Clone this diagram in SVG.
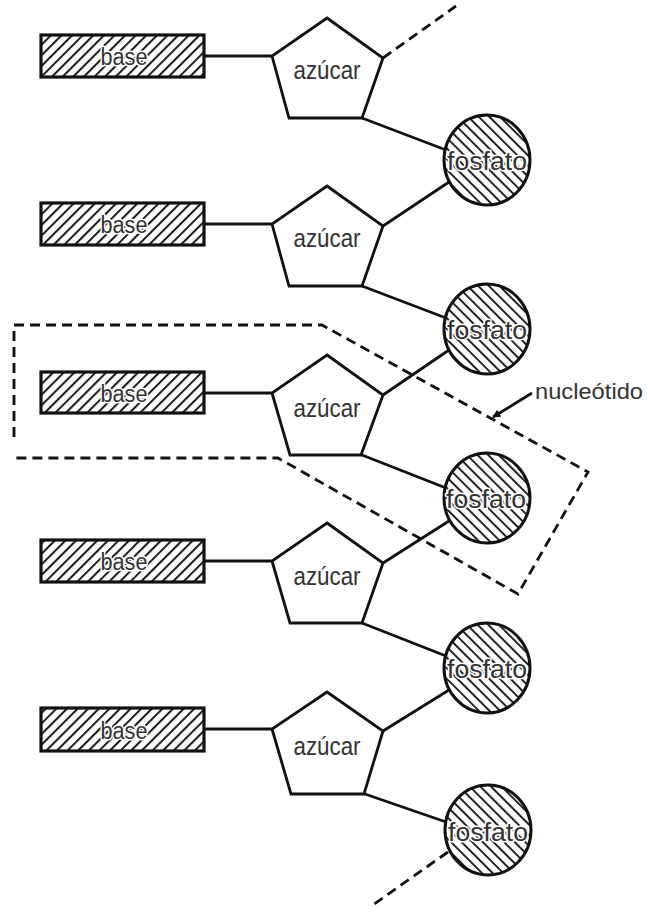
<svg xmlns="http://www.w3.org/2000/svg" width="647" height="907" viewBox="0 0 647 907">
<defs>
<pattern id="hatchBase" patternUnits="userSpaceOnUse" width="7.5" height="7.5" patternTransform="rotate(45)">
<rect width="7.5" height="7.5" fill="#fff"/>
<line x1="1" y1="0" x2="1" y2="7.5" stroke="#1a1a1a" stroke-width="2"/>
</pattern>
<pattern id="hatchPhos" patternUnits="userSpaceOnUse" width="7.5" height="7.5" patternTransform="rotate(-45)">
<rect width="7.5" height="7.5" fill="#fff"/>
<line x1="1" y1="0" x2="1" y2="7.5" stroke="#1a1a1a" stroke-width="1.9"/>
</pattern>
<marker id="arr" viewBox="0 0 10 10" refX="9" refY="5" markerWidth="9" markerHeight="8" orient="auto" markerUnits="userSpaceOnUse">
<path d="M0,0 L10,5 L0,10 z" fill="#111"/>
</marker>
</defs>
<style>
.base{fill:url(#hatchBase);stroke:#111;stroke-width:3.2}
.phos{fill:url(#hatchPhos);stroke:#111;stroke-width:3}
.sugar{fill:#fff;stroke:#111;stroke-width:2.8;stroke-linejoin:miter}
.bond{stroke:#111;stroke-width:2.8;fill:none}
.dash{stroke:#111;stroke-width:2.8;fill:none;stroke-dasharray:10 6}
.lbl{font-family:"Liberation Sans Narrow","Liberation Sans",Arial,sans-serif;fill:#333;text-anchor:middle}
.tb{font-size:23px}
.ts{font-size:25px}
.tp{font-size:25px}
.halo{paint-order:stroke;stroke:#fff;stroke-width:3;stroke-linejoin:round}
</style>
<rect width="647" height="907" fill="#fff"/>

<g id="connectors">
<line class="dash" x1="383" y1="58" x2="456" y2="6"/>
<line class="bond" x1="204" y1="56" x2="272" y2="56"/>
<line class="bond" x1="362" y1="118" x2="446" y2="150"/>
<line class="bond" x1="449" y1="182" x2="383" y2="226"/>
<line class="bond" x1="204" y1="224" x2="272" y2="224"/>
<line class="bond" x1="362" y1="286" x2="446" y2="318"/>
<line class="bond" x1="449" y1="350" x2="383" y2="395"/>
<line class="bond" x1="204" y1="393" x2="272" y2="393"/>
<line class="bond" x1="362" y1="455" x2="446" y2="488"/>
<line class="bond" x1="449" y1="521" x2="383" y2="563"/>
<line class="bond" x1="204" y1="561" x2="272" y2="561"/>
<line class="bond" x1="362" y1="623" x2="446" y2="656"/>
<line class="bond" x1="449" y1="690" x2="383" y2="731"/>
<line class="bond" x1="204" y1="729" x2="272" y2="729"/>
<line class="bond" x1="362" y1="793" x2="446" y2="822"/>
<line class="dash" x1="448" y1="852" x2="370" y2="907"/>
</g>

<g id="row1">
<g id="base1"><rect class="base" x="41" y="35" width="163" height="42"/><text class="lbl tb halo" x="124" y="65" textLength="47" lengthAdjust="spacingAndGlyphs">base</text></g>
<g id="sugar1"><polygon class="sugar" points="327,18 383,58 362,118 289,118 272,56"/><text class="lbl ts" x="327" y="79" textLength="67" lengthAdjust="spacingAndGlyphs">azúcar</text></g>
<g id="phos1"><ellipse class="phos" cx="487" cy="160" rx="43" ry="45"/><text class="lbl tp halo" x="487" y="170" textLength="80" lengthAdjust="spacingAndGlyphs">fosfato</text></g>
</g>

<g id="row2">
<g id="base2"><rect class="base" x="41" y="203" width="163" height="42"/><text class="lbl tb halo" x="124" y="233" textLength="47" lengthAdjust="spacingAndGlyphs">base</text></g>
<g id="sugar2"><polygon class="sugar" points="327,186 383,226 362,286 289,286 272,224"/><text class="lbl ts" x="327" y="247" textLength="67" lengthAdjust="spacingAndGlyphs">azúcar</text></g>
<g id="phos2"><ellipse class="phos" cx="487" cy="329" rx="43" ry="45"/><text class="lbl tp halo" x="487" y="339" textLength="80" lengthAdjust="spacingAndGlyphs">fosfato</text></g>
</g>

<g id="row3">
<g id="base3"><rect class="base" x="41" y="372" width="163" height="41"/><text class="lbl tb halo" x="124" y="402" textLength="47" lengthAdjust="spacingAndGlyphs">base</text></g>
<g id="sugar3"><polygon class="sugar" points="327,355 383,395 361,455 290,455 272,393"/><text class="lbl ts" x="327" y="417" textLength="67" lengthAdjust="spacingAndGlyphs">azúcar</text></g>
<g id="phos3"><ellipse class="phos" cx="487" cy="498" rx="43" ry="45"/><text class="lbl tp halo" x="486" y="508" textLength="80" lengthAdjust="spacingAndGlyphs">fosfato</text></g>
</g>

<g id="row4">
<g id="base4"><rect class="base" x="41" y="540" width="163" height="42"/><text class="lbl tb halo" x="124" y="570" textLength="47" lengthAdjust="spacingAndGlyphs">base</text></g>
<g id="sugar4"><polygon class="sugar" points="327,523 383,563 362,623 290,623 272,561"/><text class="lbl ts" x="327" y="585" textLength="67" lengthAdjust="spacingAndGlyphs">azúcar</text></g>
<g id="phos4"><ellipse class="phos" cx="487" cy="668" rx="43" ry="45"/><text class="lbl tp halo" x="487" y="678" textLength="80" lengthAdjust="spacingAndGlyphs">fosfato</text></g>
</g>

<g id="row5">
<g id="base5"><rect class="base" x="41" y="708" width="163" height="43"/><text class="lbl tb halo" x="124" y="739" textLength="47" lengthAdjust="spacingAndGlyphs">base</text></g>
<g id="sugar5"><polygon class="sugar" points="327,692 383,731 364,794 291,794 272,729"/><text class="lbl ts" x="327" y="755" textLength="67" lengthAdjust="spacingAndGlyphs">azúcar</text></g>
<g id="phos5"><ellipse class="phos" cx="488" cy="830" rx="43" ry="45"/><text class="lbl tp halo" x="488" y="841" textLength="80" lengthAdjust="spacingAndGlyphs">fosfato</text></g>
</g>

<g id="nucleotide">
<path class="dash" d="M14,437 L14,325 L322,325 L588,472 L518,594 L278,458 L14,458"/>
<line class="bond" x1="532" y1="393" x2="493" y2="417" stroke-width="2.2" marker-end="url(#arr)"/>
<text class="lbl" x="535" y="399" style="text-anchor:start;font-size:22px" textLength="108" lengthAdjust="spacingAndGlyphs">nucleótido</text>
</g>
</svg>
